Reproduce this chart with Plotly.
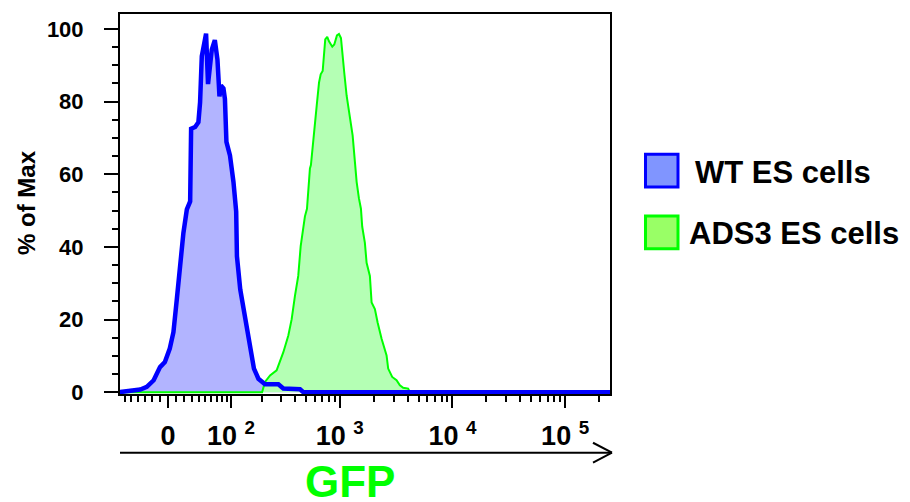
import numpy as np
import plotly.graph_objects as go

# ---------------- data ----------------
COFACTOR = 60  # arcsinh (biexponential-like) display cofactor for the GFP axis

wt_gfp = [-70, -36, -27, -18, -10, -4, 2, 6.5, 10.7, 14.8, 19.0, 23.5, 27.9, 29.2,
          34.8, 39.5, 42.0, 44.6, 51.3, 54.5, 60.9, 66.3, 71.2, 74.0, 75.1, 78,
          83.2, 86.3, 89.6, 97.6, 106, 113, 115, 124, 138, 154, 168, 185, 213,
          282, 313, 442, 473, 300000]
wt_pct = [0, 0.74, 1.45, 3.28, 6.9, 8.3, 12.0, 16.5, 25.6, 34.8, 43.8, 50.3, 52.5, 72.5,
          73.0, 74.3, 79.8, 92.5, 98.7, 84.8, 94.3, 96.9, 91.6, 84.4, 81.4, 84.4,
          83.6, 80.7, 68.9, 65.2, 57.9, 49.7, 37.4, 28.3, 20.1, 12.8, 6.5, 3.7, 2.2,
          2.2, 1.0, 0.8, 0, 0]

ads3_gfp = [-70, 200, 213, 237, 272, 292, 313, 347, 372, 398, 426, 448, 473, 489, 510,
            524, 542, 553, 580, 623, 653, 676, 704, 723, 742, 773, 801, 857, 893, 943,
            983, 1024, 1051, 1095, 1150, 1230, 1300, 1362, 1411, 1478, 1541, 1581,
            1670, 1730, 1850, 1916, 2049, 2167, 2350, 2602, 2689, 2918, 3192, 3416,
            3654, 4044, 4188, 300000]
ads3_pct = [0, 0, 2.8, 4.6, 6.0, 8.3, 11.0, 15.6, 20.1, 26.5, 32.0, 40.2, 44.7, 48.4, 50.5,
            56.1, 61.6, 62.5, 69.8, 78.9, 85.2, 87.5, 88.4, 92.5, 97.1, 97.8, 96.6, 95.1,
            95.7, 98.2, 98.6, 97.5, 93.0, 88.0, 81.6, 75.2, 70.7, 63.4, 57.9, 53.4, 50.5,
            45.6, 41.1, 35.6, 32.0, 24.7, 22.9, 19.2, 14.7, 10.1, 6.5, 4.2, 3.3, 1.9,
            1.2, 1.0, 0, 0]

series_names = ["WT ES cells", "ADS3 ES cells"]
x_tick_values = [0, 100, 1000, 10000, 100000]
x_tick_labels = ["0", "10 <sup>2</sup>", "10 <sup>3</sup>", "10 <sup>4</sup>", "10 <sup>5</sup>"]
x_minor_values = ([-60, -50, -40, -30, -20, -10]
                  + [10, 20, 30, 40, 50, 60, 70, 80, 90]
                  + [200, 300, 400, 500, 600, 700, 800, 900]
                  + [2000, 3000, 4000, 5000, 6000, 7000, 8000, 9000]
                  + [20000, 30000, 40000, 50000, 60000, 70000, 80000, 90000, 200000])
x_limits = [-69, 250000]
y_tick_values = [0, 20, 40, 60, 80, 100]
y_limits = [-0.5, 104.1]

# ---------------- styling ----------------
W, H = 910, 502
ML, MR, MT, MB = 120, 300, 12, 108
FONT = "Liberation Sans, Arial, Helvetica, sans-serif"
BLUE, BLUE_FILL, BLUE_KEY = "#0000FF", "#B2B4FF", "#8095FF"
GREEN, GREEN_FILL, GREEN_KEY = "#00FF00", "#B4FFB4", "#99FF66"


def scale(v):
    """arcsinh display transform for the GFP axis"""
    return np.arcsinh(np.asarray(v, dtype=float) / COFACTOR)


pw, ph = W - ML - MR, H - MT - MB


def px(x):  # pixel -> paper x
    return (x - ML) / pw


def py(y):  # pixel -> paper y
    return (H - MB - y) / ph


fig = go.Figure()

# WT fill (underneath)
fig.add_trace(go.Scatter(x=scale(wt_gfp), y=wt_pct, mode="lines", fill="tozeroy",
                         fillcolor=BLUE_FILL, line=dict(width=0, color=BLUE_FILL),
                         showlegend=False, hoverinfo="skip"))
# ADS3 fill + line
fig.add_trace(go.Scatter(x=scale(ads3_gfp), y=ads3_pct, mode="lines", fill="tozeroy",
                         fillcolor=GREEN_FILL, line=dict(width=2, color=GREEN),
                         name=series_names[1], showlegend=False))
# WT line on top
fig.add_trace(go.Scatter(x=scale(wt_gfp), y=wt_pct, mode="lines",
                         line=dict(width=4.5, color=BLUE),
                         name=series_names[0], showlegend=False))

fig.update_layout(
    width=W, height=H,
    margin=dict(l=ML, r=MR, t=MT, b=MB),
    paper_bgcolor="white", plot_bgcolor="white",
    font=dict(family=FONT, color="black"),
    showlegend=False,
)

fig.update_xaxes(
    range=list(scale(x_limits)),
    tickmode="array", tickvals=list(scale(x_tick_values)), ticktext=x_tick_labels,
    ticks="outside", ticklen=12, tickwidth=2, tickcolor="black",
    tickfont=dict(size=27, family=FONT, color="black", weight="bold"),
    ticklabelstandoff=5,
    minor=dict(tickmode="array", tickvals=list(scale(x_minor_values)),
               ticks="outside", ticklen=6, tickwidth=1.5, tickcolor="black"),
    showline=True, linecolor="black", linewidth=2, mirror=True,
    showgrid=False, zeroline=False,
)
fig.update_yaxes(
    range=y_limits,
    tickmode="array", tickvals=y_tick_values,
    ticks="outside", ticklen=14, tickwidth=2, tickcolor="black",
    tickfont=dict(size=22, family=FONT, color="black", weight="bold"),
    ticklabelstandoff=16,
    minor=dict(dtick=5, tick0=0, ticks="outside", ticklen=6, tickwidth=1.5,
               tickcolor="black"),
    showline=True, linecolor="black", linewidth=2, mirror=True,
    showgrid=False, zeroline=False,
)

# y title
fig.add_annotation(text="<b>% of Max</b>", xref="paper", yref="paper",
                   x=px(26), y=py(202), textangle=-90, showarrow=False,
                   xanchor="center", yanchor="middle",
                   font=dict(size=24, family=FONT, color="black"))

# x title
fig.add_annotation(text="<b>GFP</b>", xref="paper", yref="paper",
                   x=px(350), y=py(482), showarrow=False,
                   xanchor="center", yanchor="middle",
                   font=dict(size=44, family=FONT, color=GREEN))

# arrow under the axis
line_style = dict(color="black", width=2)
fig.add_shape(type="line", xref="paper", yref="paper",
              x0=px(120), y0=py(453), x1=px(612), y1=py(453), line=line_style)
fig.add_shape(type="line", xref="paper", yref="paper",
              x0=px(593), y0=py(443), x1=px(612), y1=py(453), line=line_style)
fig.add_shape(type="line", xref="paper", yref="paper",
              x0=px(593), y0=py(463), x1=px(612), y1=py(453), line=line_style)

# legend (drawn manually)
legend_items = [
    (series_names[0], BLUE, BLUE_KEY, 153, 186, 693, 171),
    (series_names[1], GREEN, GREEN_KEY, 215, 248, 687, 233),
]
for name, edge, face, ytop, ybot, xtext, ytext in legend_items:
    fig.add_shape(type="rect", xref="paper", yref="paper",
                  x0=px(645.5), x1=px(678), y0=py(ybot), y1=py(ytop),
                  line=dict(color=edge, width=3), fillcolor=face)
    fig.add_annotation(text=f"<b>{name}</b>", xref="paper", yref="paper",
                       x=px(xtext), y=py(ytext), showarrow=False,
                       xanchor="left", yanchor="middle",
                       font=dict(size=31, family=FONT, color="black"))

fig.write_html("out.html")
